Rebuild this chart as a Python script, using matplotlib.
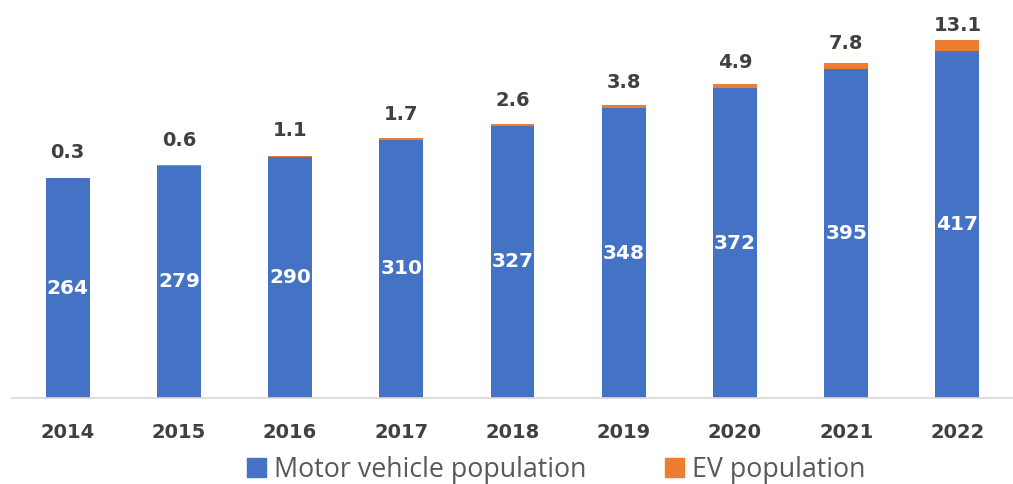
import matplotlib
matplotlib.use("Agg")
import matplotlib.pyplot as plt
from matplotlib.patches import Patch

years = ["2014", "2015", "2016", "2017", "2018", "2019", "2020", "2021", "2022"]
motor = [264, 279, 290, 310, 327, 348, 372, 395, 417]
ev = [0.3, 0.6, 1.1, 1.7, 2.6, 3.8, 4.9, 7.8, 13.1]

BLUE = "#4472C4"
ORANGE = "#ED7D31"
LABEL = "#404040"

fig = plt.figure(figsize=(10.13, 4.84), dpi=100)
ax = fig.add_axes([12 / 1013, 86 / 484, 1001 / 1013, 398 / 484])

x = list(range(len(years)))
w = 0.395
ax.bar(x, motor, width=w, color=BLUE, label="Motor vehicle population")
ax.bar(x, ev, width=w, bottom=motor, color=ORANGE, label="EV population")

for xi, m, e in zip(x, motor, ev):
    ax.text(xi, m / 2, f"{m}", ha="center", va="center", color="white",
            fontsize=14.5, fontweight="bold", family="DejaVu Sans")
    ax.annotate(f"{e}", xy=(xi, m), xytext=(0, 14.5), textcoords="offset points",
                ha="center", va="baseline", color=LABEL,
                fontsize=14, fontweight="bold", family="DejaVu Sans")

ax.set_xlim(-0.5, len(years) - 0.5)
ax.set_ylim(0, 478)
ax.set_xticks(x)
ax.set_xticklabels(years, fontsize=14, fontweight="bold", color=LABEL, family="DejaVu Sans")
ax.tick_params(axis="x", length=0, pad=18)
ax.set_yticks([])
for s in ["top", "left", "right"]:
    ax.spines[s].set_visible(False)
ax.spines["bottom"].set_color("#D9D9D9")
ax.spines["bottom"].set_linewidth(1.2)

handles = [Patch(color=BLUE), Patch(color=ORANGE)]
fig.legend(handles, ["Motor vehicle population", "EV population"],
           loc="center", bbox_to_anchor=(556 / 1013, 1 - 470 / 484),
           ncol=2, frameon=False, prop={"family": "Open Sans", "size": 19.3},
           labelcolor="#595959", handlelength=0.7, handleheight=0.7,
           handletextpad=0.3, columnspacing=2.95, borderpad=0, borderaxespad=0)

fig.savefig("out.png", dpi=100)
